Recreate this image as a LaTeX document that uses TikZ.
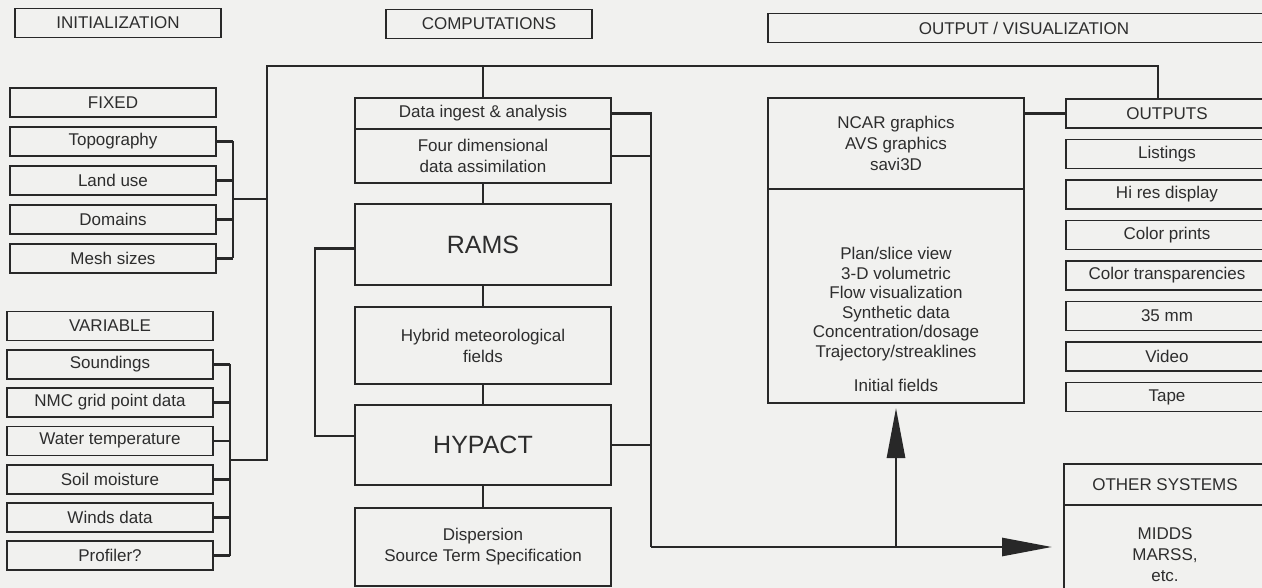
\documentclass[tikz,border=0pt]{standalone}
\usepackage{fontspec}
\setmainfont{Liberation Sans}
\usetikzlibrary{arrows.meta, positioning}
\definecolor{paperBg}{RGB}{241,241,239}
\definecolor{inkLine}{RGB}{40,40,40}
\definecolor{inkText}{RGB}{45,45,45}

\begin{document}
\begin{tikzpicture}[
    x=1pt, y=-1pt,
    node distance=10pt and 10pt,
    box/.style={rectangle, draw=inkLine, line width=1.8pt, outer sep=0pt, inner sep=1pt, minimum width=206pt, minimum height=29pt, align=center, text=inkText, font=\fontsize{17}{21}\selectfont},
    bigbox/.style={box, minimum width=256pt},
    outbox/.style={box, minimum width=202pt},
    bigfont/.style={font=\fontsize{25}{30}\selectfont},
    plain/.style={inner sep=1pt, align=center, text=inkText, font=\fontsize{17}{19.5}\selectfont},
    wire/.style={draw=inkLine, line width=2.8pt},
    >={Triangle[length=50pt,width=18pt]}
]
\fill[paperBg] (0,0) rectangle (1262,588);
\useasboundingbox (0,0) rectangle (1262,588);
\clip (0,0) rectangle (1262,588);

\node[box] (init) at (118,23) {INITIALIZATION};
\node[box] (comp) at (489,24) {COMPUTATIONS};
\node[box, minimum width=512pt, anchor=west] (outvis) at (768,28) {OUTPUT / VISUALIZATION};

\node[box] (fixed) at (113,102.5) {FIXED};
\node[box, below=of fixed] (topo) {Topography};
\node[box, below=of topo] (landuse) {Land use};
\node[box, below=of landuse] (domains) {Domains};
\node[box, below=of domains] (mesh) {Mesh sizes};

\node[box] (variable) at (110,326) {VARIABLE};
\node[box, below=9.3pt of variable] (sound) {Soundings};
\node[box, below=9.3pt of sound] (nmc) {NMC grid point data};
\node[box, below=9.3pt of nmc] (water) {Water temperature};
\node[box, below=9.3pt of water] (soil) {Soil moisture};
\node[box, below=9.3pt of soil] (winds) {Winds data};
\node[box, below=9.3pt of winds] (profiler) {Profiler?};

\node[bigbox, minimum height=31pt] (ingest) at (483,113.5) {Data ingest \& analysis};
\node[bigbox, minimum height=54pt, below=0pt of ingest] (fdda) {Four dimensional\\data assimilation};
\node[bigbox, bigfont, minimum height=81pt, below=21pt of fdda] (rams) {RAMS};
\node[bigbox, minimum height=77pt, below=22pt of rams] (hybrid) {Hybrid meteorological\\fields};
\node[bigbox, bigfont, minimum height=80pt, below=21pt of hybrid] (hypact) {HYPACT};
\node[bigbox, minimum height=78pt, below=23pt of hypact] (disp) {Dispersion\\Source Term Specification};

\node[bigbox, minimum height=91pt] (ncar) at (896,143.5) {NCAR graphics\\AVS graphics\\savi3D};
\node[bigbox, minimum height=214pt, below=0pt of ncar] (views) {};
\node[plain, above=10pt of views.south] (viewlist) {Plan/slice view\\3-D volumetric\\Flow visualization\\Synthetic data\\Concentration/dosage\\Trajectory/streaklines\\[15pt]Initial fields};

\node[outbox, anchor=north west] (outputs) at (1066,99) {OUTPUTS};
\node[outbox, below=11.5pt of outputs] (listings) {Listings};
\node[outbox, below=11.5pt of listings] (hires) {Hi res display};
\node[outbox, below=11.5pt of hires] (prints) {Color prints};
\node[outbox, below=11.5pt of prints] (transp) {Color transparencies};
\node[outbox, below=11.5pt of transp] (mm) {35 mm};
\node[outbox, below=11.5pt of mm] (video) {Video};
\node[outbox, below=11.5pt of video] (tape) {Tape};

\node[outbox, minimum height=41pt, anchor=north west] (other) at (1064,464) {OTHER SYSTEMS};
\node[outbox, minimum height=100pt, below=0pt of other] (otherlist) {MIDDS\\MARSS,\\etc.};

\coordinate (mainbus) at (267,66);
\coordinate (outdrop) at (1158,66);
\coordinate (fixbus) at (233,199);
\coordinate (varbus) at (230,460);
\coordinate (feed) at (651,547);
\coordinate (loop) at (315,0);

\foreach \n in {topo,landuse,domains,mesh}
    \draw[wire] (\n.east) -- (\n.east -| fixbus);
\draw[wire] (topo.east -| fixbus) -- (mesh.east -| fixbus);
\draw[wire] (fixbus) -- (fixbus -| mainbus);

\foreach \n in {sound,nmc,water,soil,winds,profiler}
    \draw[wire] (\n.east) -- (\n.east -| varbus);
\draw[wire] (sound.east -| varbus) -- (profiler.east -| varbus);
\draw[wire] (varbus) -- (varbus -| mainbus) -- (mainbus) -- (outdrop) -- (outdrop |- outputs.north);
\draw[wire] (ingest.north) -- (ingest.north |- mainbus);

\draw[wire] (fdda) -- (rams);
\draw[wire] (rams) -- (hybrid);
\draw[wire] (hybrid) -- (hypact);
\draw[wire] (hypact) -- (disp);
\draw[wire] ([yshift=-4pt]rams.west) -- ([yshift=-4pt]rams.west -| loop) -- ([yshift=9pt]hypact.west -| loop) -- ([yshift=9pt]hypact.west);

\draw[wire] (ingest.east) -- (ingest.east -| feed) -- (feed);
\draw[wire] (fdda.east) -- (fdda.east -| feed);
\draw[wire] (hypact.east) -- (hypact.east -| feed);
\draw[wire, ->, shorten >=12pt] (feed) -- (feed -| other.west);
\draw[wire, ->, shorten >=5pt] (feed -| views) -- (views.south);

\draw[wire] (ncar.east |- outputs.west) -- (outputs.west);
\end{tikzpicture}
\end{document}
